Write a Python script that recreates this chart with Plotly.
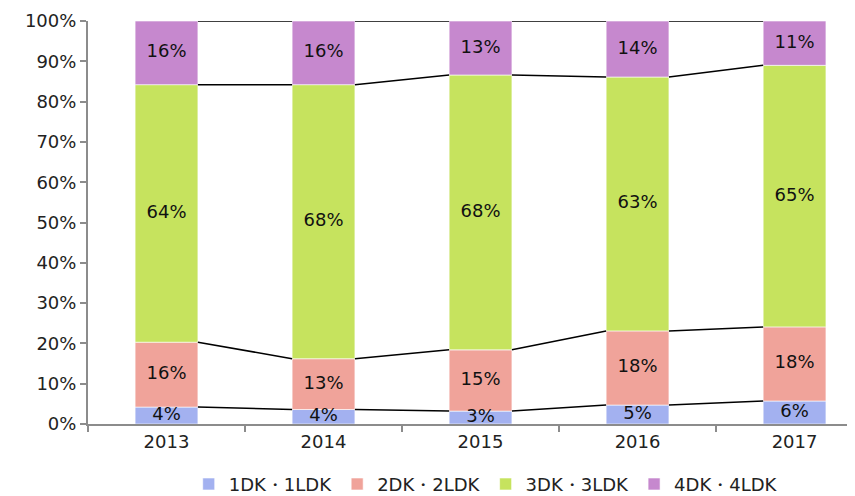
import plotly.graph_objects as go

years = ["2013", "2014", "2015", "2016", "2017"]
series_names = ["1DK・1LDK", "2DK・2LDK", "3DK・3LDK", "4DK・4LDK"]
v_1dk = [4.2, 3.6, 3.2, 4.7, 5.7]
v_2dk = [16.1, 12.6, 15.2, 18.4, 18.4]
v_3dk = [63.9, 68.0, 68.2, 63.0, 64.9]
v_4dk = [15.8, 15.8, 13.4, 13.9, 11.0]
colors = ["#A3B1F0", "#F0A39A", "#C6E35E", "#C688CE"]
y_ticks = list(range(0, 101, 10))

values = [v_1dk, v_2dk, v_3dk, v_4dk]
xs = list(range(len(years)))
bw = 0.4
font = "DejaVu Sans, Verdana, sans-serif"

fig = go.Figure()
bases = [0.0] * len(years)
tops_all = []
for name, vals, col in zip(series_names, values, colors):
    fig.add_trace(go.Bar(
        x=xs, y=vals, base=bases, name=name, width=bw,
        marker=dict(color=col, line=dict(color="rgba(255,255,255,0.6)", width=1)),
        hoverinfo="skip",
    ))
    centers = [b + v / 2 for b, v in zip(bases, vals)]
    fig.add_trace(go.Scatter(
        x=xs, y=centers, mode="text", text=[f"{round(v)}%" for v in vals],
        textfont=dict(family=font, size=18, color="#111111"),
        showlegend=False, hoverinfo="skip", cliponaxis=False,
    ))
    bases = [b + v for b, v in zip(bases, vals)]
    tops_all.append(list(bases))

# series lines connecting segment tops between adjacent bars
for tops in tops_all:
    lx, ly = [], []
    for i in range(len(years) - 1):
        lx += [xs[i] + bw / 2, xs[i + 1] - bw / 2, None]
        ly += [tops[i], tops[i + 1], None]
    fig.add_trace(go.Scatter(
        x=lx, y=ly, mode="lines", line=dict(color="black", width=1.5),
        showlegend=False, hoverinfo="skip",
    ))

fig.update_layout(
    width=847, height=488,
    margin=dict(l=80, r=0, t=13, b=72, autoexpand=False),
    plot_bgcolor="white", paper_bgcolor="white",
    barmode="overlay",
    font=dict(family=font, size=18, color="#222222"),
    legend=dict(orientation="h", xref="container", yref="container",
                x=0.564, xanchor="center", y=0.024, yanchor="middle",
                font=dict(family=font, size=18, color="#222222"),
                itemwidth=30, traceorder="normal"),
    xaxis=dict(
        range=[-0.5, 4.385], tickvals=xs, ticktext=years, ticks="",
        showline=True, linecolor="#8C8C8C", linewidth=2, showgrid=False, zeroline=False,
        automargin=False,
        minor=dict(tickvals=[-0.5, 0.5, 1.5, 2.5, 3.5], ticks="outside", ticklen=6,
                   tickcolor="#8C8C8C", tickwidth=2, showgrid=False),
        tickfont=dict(size=18),
    ),
    yaxis=dict(
        range=[0, 100], tickvals=y_ticks, ticktext=[f"{t}%" for t in y_ticks],
        ticks="outside", ticklen=6, tickcolor="#8C8C8C", tickwidth=2,
        showline=True, linecolor="#8C8C8C", linewidth=2, showgrid=False, zeroline=False,
        automargin=False,
        tickfont=dict(size=18),
    ),
)

fig.write_html("out.html")
